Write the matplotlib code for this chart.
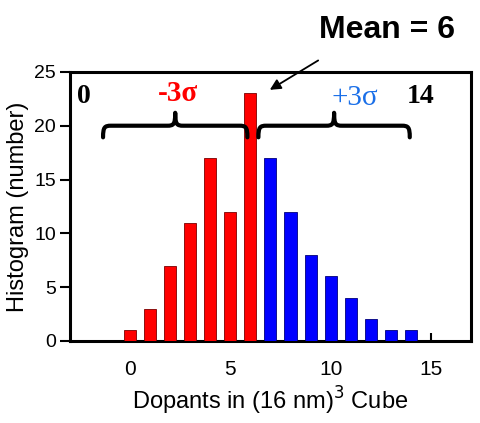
import numpy as np
import matplotlib.pyplot as plt
from matplotlib.path import Path
from matplotlib.patches import PathPatch

plt.rcParams['font.family'] = ['Liberation Sans', 'DejaVu Sans']

dopants_low = [0, 1, 2, 3, 4, 5, 6]
counts_low = [1, 3, 7, 11, 17, 12, 23]
dopants_high = [7, 8, 9, 10, 11, 12, 13, 14]
counts_high = [17, 12, 8, 6, 4, 2, 1, 1]
xticks = [0, 5, 10, 15]
yticks = [0, 5, 10, 15, 20, 25]


def brace(ax, x0, x1, y, h):
    """horizontal curly brace with the cusp pointing up"""
    xm = (x0 + x1) / 2
    d = 0.4
    verts = [
        (x0, y - h * 0.45),
        (x0, y - h * 0.05), (x0 + 0.08, y), (x0 + d, y),
        (xm - d, y),
        (xm - 0.08, y), (xm, y + h * 0.05), (xm, y + h * 0.5),
        (xm, y + h * 0.05), (xm + 0.08, y), (xm + d, y),
        (x1 - d, y),
        (x1 - 0.08, y), (x1, y - h * 0.05), (x1, y - h * 0.45),
    ]
    codes = ([Path.MOVETO] + [Path.CURVE4] * 3 + [Path.LINETO]
             + [Path.CURVE4] * 6 + [Path.LINETO] + [Path.CURVE4] * 3)
    ax.add_patch(PathPatch(Path(verts, codes), fill=False, lw=3,
                           edgecolor='black', capstyle='round',
                           joinstyle='round', zorder=5))


fig = plt.figure(figsize=(4.81, 4.23), dpi=100)
ax = fig.add_axes([0.1455, 0.194, 0.8335, 0.636])

ax.bar(dopants_low, counts_low, width=0.6, color='#ff0000',
       edgecolor='#7a0000', linewidth=0.6, zorder=3)
ax.bar(dopants_high, counts_high, width=0.6, color='#0000ff',
       edgecolor='#00007a', linewidth=0.6, zorder=3)

ax.set_xlim(-3, 17)
ax.set_ylim(0, 25)
ax.set_xticks(xticks)
ax.set_yticks(yticks)
ax.tick_params(axis='x', direction='in', length=6, width=1.5, pad=14,
               labelsize=15)
ax.tick_params(axis='y', direction='out', length=7, width=1.5, pad=3,
               labelsize=14)
for s in ax.spines.values():
    s.set_linewidth(2.2)

ax.set_xlabel('Dopants in (16 nm)$^3$ Cube', fontsize=17, labelpad=4)
ax.set_ylabel('Histogram (number)', fontsize=17, labelpad=4)

brace(ax, -1.35, 5.85, 20.0, 2.4)
brace(ax, 6.4, 13.95, 20.0, 2.4)

ax.text(-2.3, 22.7, '0', fontsize=20, fontweight='bold',
        family='Liberation Serif', ha='center', va='center')
ax.text(14.5, 22.7, '14', fontsize=20, fontweight='bold',
        family='Liberation Serif', ha='center', va='center')
ax.text(2.4, 23.0, '-3σ', fontsize=21, color='#ff0000', fontweight='bold',
        family=['Liberation Serif', 'DejaVu Serif'], ha='center', va='center')
ax.text(11.2, 22.6, '+3σ', fontsize=21, color='#1a6fe8',
        family=['Liberation Serif', 'DejaVu Serif'], ha='center', va='center')

ax.annotate('', xy=(6.85, 23.2), xytext=(9.5, 26.2),
            arrowprops=dict(arrowstyle='-|>', color='black', lw=1.3,
                            mutation_scale=16), annotation_clip=False)
fig.text(0.805, 0.93, 'Mean = 6', fontsize=23, fontweight='bold',
         ha='center', va='center')

fig.savefig('out.png', dpi=100)
